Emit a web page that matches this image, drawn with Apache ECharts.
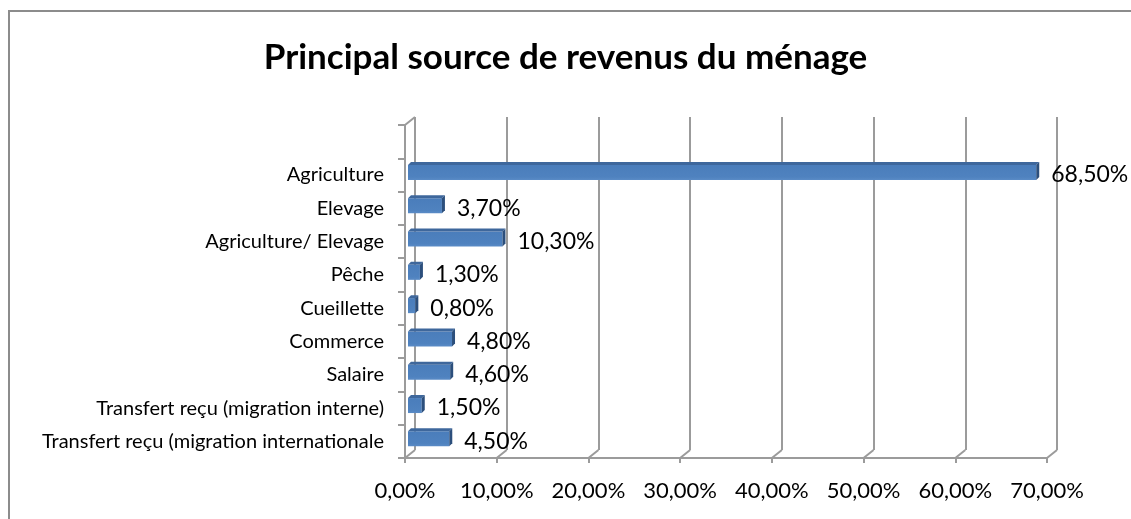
<!DOCTYPE html>
<html>
<head>
<meta charset="utf-8">
<script src="https://cdn.jsdelivr.net/npm/echarts@6/dist/echarts.min.js"></script>
<style>
  html, body { margin: 0; padding: 0; background: #fff; }
  .frame { position: absolute; left: 8px; top: 10px; width: 1200px; height: 600px;
    border-top: 2px solid #8c8c8c; border-left: 2px solid #8c8c8c; }
  #chart { position: absolute; left: 0; top: 0; width: 1131px; height: 519px; }
</style>
</head>
<body>
<div class="frame"></div>
<div id="chart"></div>
<script>
// bottom to top, the last (empty) band is the spare slot Excel leaves on top
const categories = [
  'Transfert reçu (migration internationale',
  'Transfert reçu (migration interne)',
  'Salaire',
  'Commerce',
  'Cueillette',
  'Pêche',
  'Agriculture/ Elevage',
  'Elevage',
  'Agriculture',
  ''
]
const values = [4.5, 1.5, 4.6, 4.8, 0.8, 1.3, 10.3, 3.7, 68.5, null]
const xTicks = [0, 10, 20, 30, 40, 50, 60, 70]

const fmt = v => v.toFixed(2).replace('.', ',') + '%'
const FONT = 'Lato, "Open Sans", sans-serif'
const GRAY = '#9b9b9b'

const chart = echarts.init(document.getElementById('chart'))

function renderBar(params, api) {
  const v = api.value(0)
  const idx = api.value(1)
  const p0 = api.coord([0, idx])
  const p1 = api.coord([v, idx])
  const h = 15, d = 3
  const x0 = p0[0] + 3, x1 = p1[0] + 3
  const yc = p0[1] - 2.5
  const y0 = yc - h / 2, y1 = yc + h / 2
  return {
    type: 'group',
    children: [
      { type: 'rect', shape: { x: x0, y: y0, width: x1 - x0, height: h },
        style: { fill: {
          type: 'linear', x: 0, y: 0, x2: 0, y2: 1,
          colorStops: [{ offset: 0, color: '#4a7dbb' }, { offset: 0.8, color: '#4f82bf' }, { offset: 1, color: '#5a8bc6' }]
        } } },
      { type: 'polygon', shape: { points: [[x0, y0], [x1, y0], [x1 + d, y0 - d], [x0 + d, y0 - d]] },
        style: { fill: '#3e679c' } },
      { type: 'polygon', shape: { points: [[x1, y0], [x1 + d, y0 - d], [x1 + d, y1 - d], [x1, y1]] },
        style: { fill: '#2c4f7c' } },
      { type: 'text', x: x1 + d + 12, y: p0[1],
        style: { text: fmt(v), font: '23px ' + FONT, fill: '#000', verticalAlign: 'middle' } }
    ]
  }
}

// floor edges joining the front axis ticks to the back wall grid lines
function renderFloor(params, api) {
  const v = api.value(0)
  const c = api.coord([v, 0])
  const band = api.size([0, 1])[1]
  const yb = c[1] + band / 2
  const lines = [{ type: 'line', shape: { x1: c[0], y1: yb, x2: c[0] + 10, y2: yb - 8 },
    style: { stroke: GRAY, lineWidth: 2 } }]
  if (v === 0) {
    const top = api.coord([0, categories.length - 1])[1] - band / 2
    lines.push({ type: 'line', shape: { x1: c[0], y1: top, x2: c[0] + 10, y2: top - 8 },
      style: { stroke: GRAY, lineWidth: 2 } })
  }
  return { type: 'group', children: lines }
}

chart.setOption({
  backgroundColor: 'transparent',
  animation: false,
  title: {
    text: 'Principal source de revenus du ménage',
    left: 'center', top: 35,
    textStyle: { fontFamily: FONT, fontWeight: 'bold', fontSize: 35, color: '#000' }
  },
  grid: [
    { left: 405, right: 84, top: 125, bottom: 61 },
    { left: 415, right: 74, top: 117, bottom: 69 }
  ],
  xAxis: [
    {
      type: 'value', gridIndex: 0, min: 0, max: 70, interval: 10,
      axisLine: { show: true, lineStyle: { color: GRAY, width: 2 } },
      axisTick: { show: true, length: 5, lineStyle: { color: GRAY, width: 2 } },
      axisLabel: { formatter: fmt, fontFamily: FONT, fontSize: 22, color: '#000', margin: 22 },
      splitLine: { show: false }
    },
    {
      type: 'value', gridIndex: 1, min: 0, max: 70, interval: 10,
      axisLine: { show: false }, axisTick: { show: false }, axisLabel: { show: false },
      splitLine: { show: true, lineStyle: { color: GRAY, width: 2 } }
    }
  ],
  yAxis: [
    {
      type: 'category', gridIndex: 0, data: categories,
      axisLine: { show: true, lineStyle: { color: GRAY, width: 2 } },
      axisTick: { show: true, length: 7, lineStyle: { color: GRAY, width: 2 } },
      axisLabel: { fontFamily: FONT, fontSize: 20, color: '#000', margin: 21 }
    },
    { type: 'value', gridIndex: 1, show: false, splitLine: { show: false } }
  ],
  series: [
    {
      type: 'custom', xAxisIndex: 0, yAxisIndex: 0, renderItem: renderFloor,
      data: xTicks.map(v => [v]), silent: true, z: 1
    },
    {
      type: 'custom', xAxisIndex: 0, yAxisIndex: 0, renderItem: renderBar,
      data: values.map((v, i) => v == null ? null : [v, i]).filter(d => d), z: 3
    }
  ]
})
</script>
</body>
</html>
